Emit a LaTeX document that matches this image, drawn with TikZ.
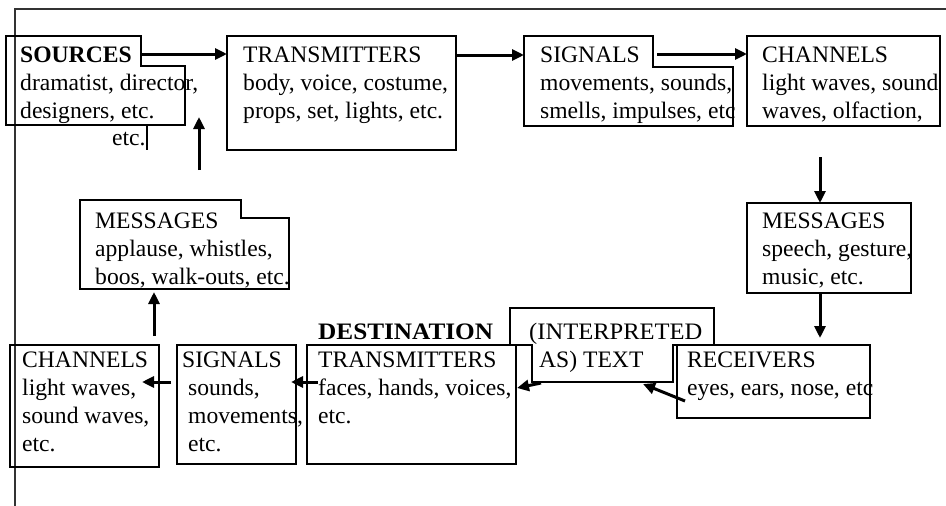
\documentclass[tikz,border=0pt]{standalone}
\usepackage{fontspec}
\setmainfont{Liberation Serif}
\usetikzlibrary{arrows.meta}

% place a stack of text lines, first baseline at (x,y), 28pt apart
\newcommand{\textlines}[4]{%
  \foreach \linetext [count=\idx from 0] in {#4}{%
    \node[txt] (#1-\idx) at (#2,{#3+28*\idx}) {\linetext};
  }}

\tikzset{
  txt/.style={anchor=base west, inner sep=0pt, font=\fontsize{23.6}{28}\selectfont},
  boxline/.style={draw, line width=1.1pt},
  box/.style={boxline, anchor=north west, inner sep=0pt, outer sep=0pt},
  frameline/.style={draw=black!80, line width=1.3pt},
  arr/.style={draw, line width=3pt, -{Triangle[length=12pt,width=11pt]}},
}

\begin{document}
\begin{tikzpicture}[x=1pt, y=-1pt]
\useasboundingbox (0,0) rectangle (946,506);

% outer frame (top and left edges)
\draw[frameline] (15,506) -- (15,9) -- (946,9);

% rectangular boxes
\node[box, minimum width=229pt, minimum height=114pt] (tr1)  at (227,36)  {};
\node[box, minimum width=193pt, minimum height=90pt]  (ch1)  at (747,36)  {};
\node[box, minimum width=164pt, minimum height=90pt]  (msg1) at (747,203) {};
\node[box, minimum width=193pt, minimum height=73pt]  (rec)  at (677,345) {};
\node[box, minimum width=209pt, minimum height=119pt] (tr2)  at (307,345) {};
\node[box, minimum width=119pt, minimum height=119pt] (sig2) at (177,345) {};
\node[box, minimum width=149pt, minimum height=122pt] (ch2)  at (10,345)  {};

% notched text boxes
\draw[boxline] (6,36) -- (141,36) -- (141,66) -- (185,66) -- (185,125) -- (6,125) -- cycle;
\draw[boxline] (524,36) -- (653,36) -- (653,67) -- (733,67) -- (733,126) -- (524,126) -- cycle;
\draw[boxline] (80,200) -- (241,200) -- (241,218) -- (289,218) -- (289,289) -- (80,289) -- cycle;
\draw[boxline] (510,308) -- (714,308) -- (714,345) -- (673,345) -- (673,382) -- (532,382)
               -- (532,345) -- (510,345) -- cycle;
\draw[boxline] (147,124) -- (147,150);

% texts
\textlines{srct}{20}{62}{{\textbf{SOURCES}},{dramatist, director,},{designers, etc.}}
\node[txt] (srcetc) at (112,145) {etc.};
\textlines{tr1t}{243}{62}{{TRANSMITTERS},{body, voice, costume,},{props, set, lights, etc.}}
\textlines{sig1t}{540}{62}{{SIGNALS},{movements, sounds,},{smells, impulses, etc}}
\textlines{ch1t}{762}{62}{{CHANNELS},{light waves, sound},{waves, olfaction,}}
\textlines{msg1t}{762}{228}{{MESSAGES},{speech, gesture,},{music, etc.}}
\textlines{msg2t}{95}{228}{{MESSAGES},{applause, whistles,},{boos, walk-outs, etc.}}
\node[txt] (dest) at (318,339) {\scalebox{1.07}[1]{\textbf{DESTINATION}}};
\node[txt] (text0) at (529,339) {\scalebox{1.04}[1]{(INTERPRETED}};
\node[txt] (text1) at (539,367) {AS) TEXT};
\textlines{tr2t}{318}{367}{{TRANSMITTERS},{faces, hands, voices,},{etc.}}
\textlines{rect}{687}{367}{{RECEIVERS},{eyes, ears, nose, etc}}
\node[txt] (sig2t-0) at (182,367) {SIGNALS};
\textlines{sig2b}{188}{395}{{sounds,},{movements,},{etc.}}
\textlines{ch2t}{22}{367}{{CHANNELS},{light waves,},{sound waves,},{etc.}}

% connector end points
\coordinate (srcout)  at (141,54);
\coordinate (sig1in)  at (524,55);
\coordinate (sig1out) at (657,54);
\coordinate (ch1down) at (820,157);
\coordinate (recin)   at (820,338);
\coordinate (recout)  at (685,401);
\coordinate (textin)  at (643,384);
\coordinate (textout) at (541,383);
\coordinate (tr2in)   at (517,388);
\coordinate (tr2out)  at (318,382);
\coordinate (sig2in)  at (291,382);
\coordinate (sig2out) at (171,382);
\coordinate (ch2in)   at (142,382);
\coordinate (ch2out)  at (154,336);
\coordinate (msg2in)  at (154,292);
\coordinate (msg2out) at (199,170);
\coordinate (srcin)   at (199,117);

% connectors
\draw[arr] (srcout) -- (srcout -| tr1.west);
\draw[arr] (sig1in -| tr1.east) -- (sig1in);
\draw[arr] (sig1out) -- (sig1out -| ch1.west);
\draw[arr] (ch1down) -- (ch1down |- msg1.north);
\draw[arr] (recin |- msg1.south) -- (recin);
\draw[arr] (recout) -- (textin);
\draw[arr] (textout) -- (tr2in);
\draw[arr] (tr2out) -- (sig2in);
\draw[arr] (sig2out) -- (ch2in);
\draw[arr] (ch2out) -- (msg2in);
\draw[arr] (msg2out) -- (srcin);
\end{tikzpicture}
\end{document}
